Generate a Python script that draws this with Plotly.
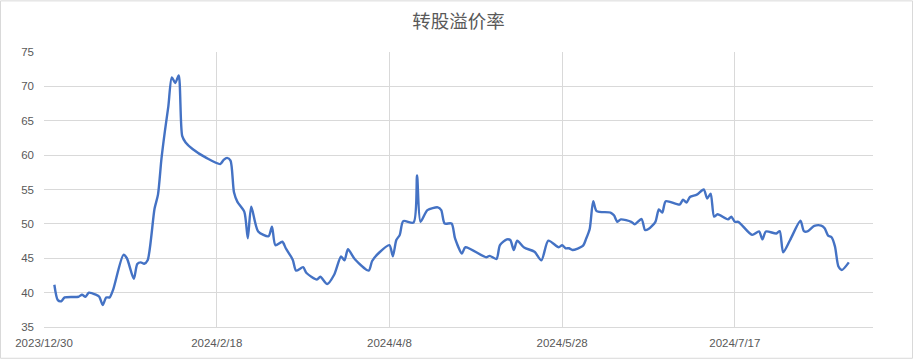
import plotly.graph_objects as go

dates = [
    "2024-01-02", "2024-01-03", "2024-01-04", "2024-01-05", "2024-01-09", "2024-01-10",
    "2024-01-11", "2024-01-12", "2024-01-14", "2024-01-15", "2024-01-16", "2024-01-17",
    "2024-01-18", "2024-01-19", "2024-01-22", "2024-01-23", "2024-01-25", "2024-01-26",
    "2024-01-27", "2024-01-28", "2024-01-29", "2024-01-31", "2024-02-01", "2024-02-02",
    "2024-02-03", "2024-02-04", "2024-02-05", "2024-02-06", "2024-02-07", "2024-02-08",
    "2024-02-09", "2024-02-11", "2024-02-15", "2024-02-19", "2024-02-20", "2024-02-21",
    "2024-02-22", "2024-02-23", "2024-02-24", "2024-02-26", "2024-02-27", "2024-02-28",
    "2024-03-01", "2024-03-04", "2024-03-05", "2024-03-06", "2024-03-08", "2024-03-09",
    "2024-03-11", "2024-03-12", "2024-03-14", "2024-03-15", "2024-03-18", "2024-03-19",
    "2024-03-21", "2024-03-23", "2024-03-25", "2024-03-26", "2024-03-27", "2024-03-29",
    "2024-04-02", "2024-04-03", "2024-04-05", "2024-04-08", "2024-04-09", "2024-04-10",
    "2024-04-11", "2024-04-12", "2024-04-15", "2024-04-16", "2024-04-17", "2024-04-19",
    "2024-04-22", "2024-04-23", "2024-04-24", "2024-04-26", "2024-04-27", "2024-04-29",
    "2024-04-30", "2024-05-06", "2024-05-07", "2024-05-09", "2024-05-10", "2024-05-12",
    "2024-05-13", "2024-05-14", "2024-05-15", "2024-05-17", "2024-05-20", "2024-05-22",
    "2024-05-24", "2024-05-27", "2024-05-28", "2024-05-29", "2024-05-30", "2024-05-31",
    "2024-06-03", "2024-06-04", "2024-06-05", "2024-06-06", "2024-06-07", "2024-06-11",
    "2024-06-12", "2024-06-13", "2024-06-14", "2024-06-17", "2024-06-18", "2024-06-20",
    "2024-06-21", "2024-06-22", "2024-06-24", "2024-06-25", "2024-06-26", "2024-06-27",
    "2024-07-01", "2024-07-02", "2024-07-03", "2024-07-04", "2024-07-06", "2024-07-08",
    "2024-07-09", "2024-07-10", "2024-07-11", "2024-07-12", "2024-07-15", "2024-07-16",
    "2024-07-17", "2024-07-18", "2024-07-22", "2024-07-24", "2024-07-25", "2024-07-26",
    "2024-07-29", "2024-07-30", "2024-07-31", "2024-08-02", "2024-08-05", "2024-08-06",
    "2024-08-07", "2024-08-09", "2024-08-11", "2024-08-12", "2024-08-13", "2024-08-14",
    "2024-08-15", "2024-08-16", "2024-08-17", "2024-08-19",
]

premium = [
    41.15, 38.9, 38.75, 39.3, 39.4, 39.7,
    39.4, 40.0, 39.7, 39.4, 38.2, 39.3,
    39.3, 40.4, 45.5, 45.0, 42.0, 44.15,
    44.4, 44.2, 44.7, 52.2, 54.25, 59.45,
    63.5, 67.1, 71.3, 70.5, 71.6, 62.8,
    61.85, 60.9, 59.6, 58.7, 59.3, 59.6,
    59.2, 54.6, 53.2, 51.75, 47.9, 52.5,
    48.9, 48.2, 49.6, 46.9, 47.4, 46.45,
    44.8, 43.2, 43.7, 42.85, 41.9, 42.3,
    41.25, 42.6, 45.25, 44.7, 46.3, 44.85,
    43.2, 44.6, 45.8, 46.9, 45.3, 47.65,
    48.4, 50.4, 50.2, 57.05, 50.3, 52.0,
    52.4, 52.0, 50.05, 50.05, 47.9, 45.7,
    46.6, 45.15, 45.35, 44.9, 46.9, 47.75,
    47.65, 46.2, 47.55, 46.55, 45.95, 44.7,
    47.55, 46.6, 46.9, 46.45, 46.45, 46.2,
    46.8, 47.9, 49.3, 53.3, 51.85, 51.65,
    51.25, 50.3, 50.65, 50.3, 49.95, 50.7,
    49.1, 49.25, 50.3, 52.1, 51.65, 53.3,
    52.8, 53.5, 53.1, 53.9, 54.25, 55.0,
    53.7, 54.4, 51.05, 51.4, 50.65, 51.05,
    50.3, 50.3, 48.4, 48.9, 47.75, 48.9,
    48.6, 48.95, 45.85, 47.65, 50.45, 48.95,
    48.9, 49.7, 49.75, 49.35, 48.3, 48.05,
    46.7, 43.8, 43.3, 44.4,
]

tick_dates = ["2023-12-30", "2024-02-18", "2024-04-08", "2024-05-28", "2024-07-17"]
tick_labels = ["2023/12/30", "2024/2/18", "2024/4/8", "2024/5/28", "2024/7/17"]
x_range = ["2023-12-30", "2024-08-26"]
y_range = [35, 75]

title_text = "转股溢价率"

W, H = 913, 361
L, R, T, B = 44, 40, 52, 32
pw, ph = W - L - R, H - T - B

fig = go.Figure()
fig.add_trace(go.Scatter(
    x=dates, y=premium, mode="lines",
    line=dict(color="#4472C4", width=2.4, shape="spline", smoothing=0.7),
    showlegend=False, hoverinfo="x+y",
))

tick_font = dict(family="Liberation Sans, Noto Sans, sans-serif", size=11.5, color="#595959")

fig.update_layout(
    width=W, height=H,
    margin=dict(l=L, r=R, t=T, b=B),
    paper_bgcolor="white", plot_bgcolor="white",
    title=dict(text=title_text, x=0.5, xref="paper", xanchor="center",
               y=1 - 22 / H, yref="container", yanchor="middle",
               font=dict(family="Noto Sans CJK SC", size=18.5, color="#595959")),
    xaxis=dict(type="date", range=x_range, tickvals=tick_dates, ticktext=tick_labels,
               showgrid=True, gridcolor="#D9D9D9", gridwidth=1,
               showline=True, linecolor="#D9D9D9", linewidth=1,
               ticks="", tickfont=tick_font, zeroline=False, fixedrange=True,
               ticklabelstandoff=5),
    yaxis=dict(range=y_range, dtick=5, tick0=35,
               showgrid=True, gridcolor="#D9D9D9", gridwidth=1,
               showline=False, ticks="", tickfont=tick_font, zeroline=False,
               ticklabelstandoff=9, fixedrange=True),
    shapes=[dict(type="rect", xref="paper", yref="paper",
                 x0=(0.5 - L) / pw, x1=(W - 0.5 - L) / pw,
                 y0=-(B - 0.5) / ph, y1=1 + (T - 0.5) / ph,
                 line=dict(color="#D9D9D9", width=1), fillcolor="rgba(0,0,0,0)",
                 layer="below")],
)

fig.write_html("out.html")
